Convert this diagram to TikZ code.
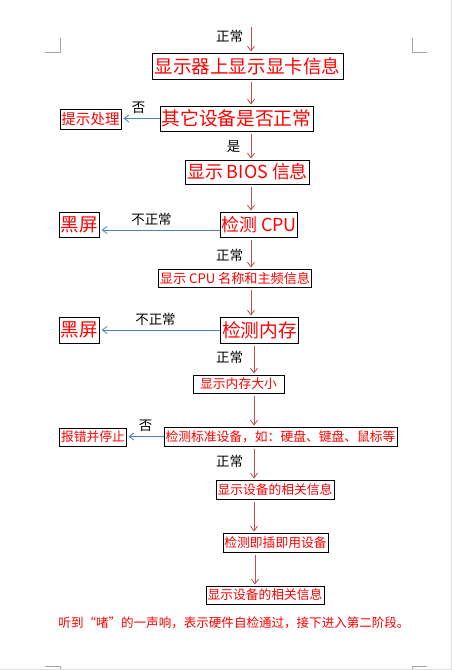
\documentclass[tikz,border=0pt]{standalone}
\usepackage{fontspec}
\newfontfamily\cjk{Noto Sans CJK SC}
\usetikzlibrary{arrows.meta}
\definecolor{flowred}{HTML}{C0504D}
\definecolor{flowblue}{HTML}{4F81BD}
\definecolor{markgray}{HTML}{A6A6A6}
\newcommand{\fs}[1]{\fontsize{#1pt}{#1pt}\selectfont}

\begin{document}
\begin{tikzpicture}[x=0.03cm, y=-0.03cm,
    box/.style={draw, line width=0.8pt, text=red, inner sep=1pt},
    tag/.style={font={\cjk\fs{11.5}}, inner sep=0pt},
    flow/.style={draw=flowred, line width=0.7pt, shorten <=0.09cm, shorten >=0.03cm,
        -{Straight Barb[length=4pt,width=6pt]}},
    side/.style={draw=flowblue, line width=0.7pt, shorten >=0.06cm,
        -{Straight Barb[length=4pt,width=6pt]}},
    corner/.style={draw=markgray, line width=0.6pt}
]
    \useasboundingbox (0,0) rectangle (452,670);

    % Page marks
    \draw[corner] (45,52) -- (60,52) -- (60,38);
    \draw[corner] (412,38) -- (412,52) -- (427,52);
    \draw[corner] (45,666) -- (60,666) -- (60,670);
    \draw[corner] (412,670) -- (412,666) -- (427,666);
    \draw[gray!25, line width=0.6pt] (451,0) -- (451,670);
    \draw[gray!25, line width=0.6pt] (0,669.5) -- (452,669.5);

    % Arrow columns
    \coordinate (colA) at (251,0);
    \coordinate (colB) at (254,0);
    \coordinate (colC) at (255,0);
    \coordinate (entry) at (251,27);

    % Main column
    \node[box, font={\cjk\fs{15.8}}, minimum width=5.73cm, minimum height=0.78cm] (gpu) at (247.5,66) {显示器上显示显卡信息};
    \node[box, font={\cjk\fs{16}}, minimum width=4.59cm, minimum height=0.75cm] (devok) at (236.5,118.5) {其它设备是否正常};
    \node[box, font={\cjk\fs{15.3}}, minimum width=3.69cm, minimum height=0.72cm] (bios) at (247.5,172) {显示 BIOS 信息};
    \node[box, font={\cjk\fs{15.3}}, minimum width=2.28cm, minimum height=0.75cm] (cpu) at (259,224.5) {检测 CPU};
    \node[box, font={\cjk\fs{11.2}}, minimum width=4.38cm, minimum height=0.54cm] (cpuinfo) at (235,278) {显示 CPU 名称和主频信息};
    \node[box, font={\cjk\fs{16}}, minimum width=2.31cm, minimum height=0.78cm] (mem) at (259.5,330) {检测内存};
    \node[box, font={\cjk\fs{10.9}}, minimum width=2.73cm, minimum height=0.54cm] (memsize) at (238.5,384) {显示内存大小};
    \node[box, font={\cjk\fs{10.9}}, minimum width=6.99cm, minimum height=0.57cm] (std) at (280.5,436.5) {检测标准设备，如：硬盘、键盘、鼠标等};
    \node[box, font={\cjk\fs{10.9}}, minimum width=3.54cm, minimum height=0.57cm] (devinfo1) at (275,489.5) {显示设备的相关信息};
    \node[box, font={\cjk\fs{10.9}}, minimum width=3.15cm, minimum height=0.57cm] (pnp) at (275.5,542.5) {检测即插即用设备};
    \node[box, font={\cjk\fs{10.9}}, minimum width=3.54cm, minimum height=0.54cm] (devinfo2) at (265,595) {显示设备的相关信息};

    % Side boxes
    \node[box, font={\cjk\fs{12.4}}, minimum width=1.83cm, minimum height=0.6cm] (hint) at (90.5,119) {提示处理};
    \node[box, font={\cjk\fs{15.8}}, minimum width=1.17cm, minimum height=0.75cm] (black1) at (79.5,224.5) {黑屏};
    \node[box, font={\cjk\fs{15.8}}, minimum width=1.17cm, minimum height=0.78cm] (black2) at (79.5,330) {黑屏};
    \node[box, font={\cjk\fs{10.9}}, minimum width=1.98cm, minimum height=0.54cm] (halt) at (93,437) {报错并停止};

    % Closing line
    \node[font={\cjk\fs{10.7}}, text=red, inner sep=0pt] (beep) at (234,623) {听到“啫”的一声响，表示硬件自检通过，接下进入第二阶段。};

    % Downward arrows
    \draw[flow, shorten <=0pt] (entry) -- (gpu.north -| colA);
    \draw[flow] (gpu.south -| colA) -- (devok.north -| colA);
    \draw[flow] (devok.south -| colA) -- (bios.north -| colA);
    \draw[flow] (bios.south -| colA) -- (cpu.north -| colA);
    \draw[flow] (cpu.south -| colA) -- (cpuinfo.north -| colA);
    \draw[flow] (cpuinfo.south -| colA) -- (mem.north -| colA);
    \draw[flow] (mem.south -| colB) -- (memsize.north -| colB);
    \draw[flow] (memsize.south -| colB) -- (std.north -| colB);
    \draw[flow] (std.south -| colB) -- (devinfo1.north -| colB);
    \draw[flow] (devinfo1.south -| colB) -- (pnp.north -| colB);
    \draw[flow] (pnp.south -| colC) -- (devinfo2.north -| colC);

    % Side arrows
    \draw[side] (devok.west) -- (devok.west -| hint.east);
    \draw[side] ([yshift=-0.165cm]cpu.west) -- ([yshift=-0.165cm]cpu.west -| black1.east);
    \draw[side] (mem.west) -- (mem.west -| black2.east);
    \draw[side] (std.west) -- (std.west -| halt.east);

    % Arrow labels
    \node[tag] (ok1) at (229.5,36.5) {正常};
    \node[tag] (no1) at (138.5,108) {否};
    \node[tag] (yes1) at (233.5,146.5) {是};
    \node[tag] (bad1) at (151.5,219.5) {不正常};
    \node[tag] (ok2) at (229.5,255.5) {正常};
    \node[tag] (bad2) at (155.5,319.5) {不正常};
    \node[tag] (ok3) at (229.5,357.5) {正常};
    \node[tag] (no2) at (145.5,426) {否};
    \node[tag] (ok4) at (229.5,461) {正常};

\end{tikzpicture}
\end{document}
